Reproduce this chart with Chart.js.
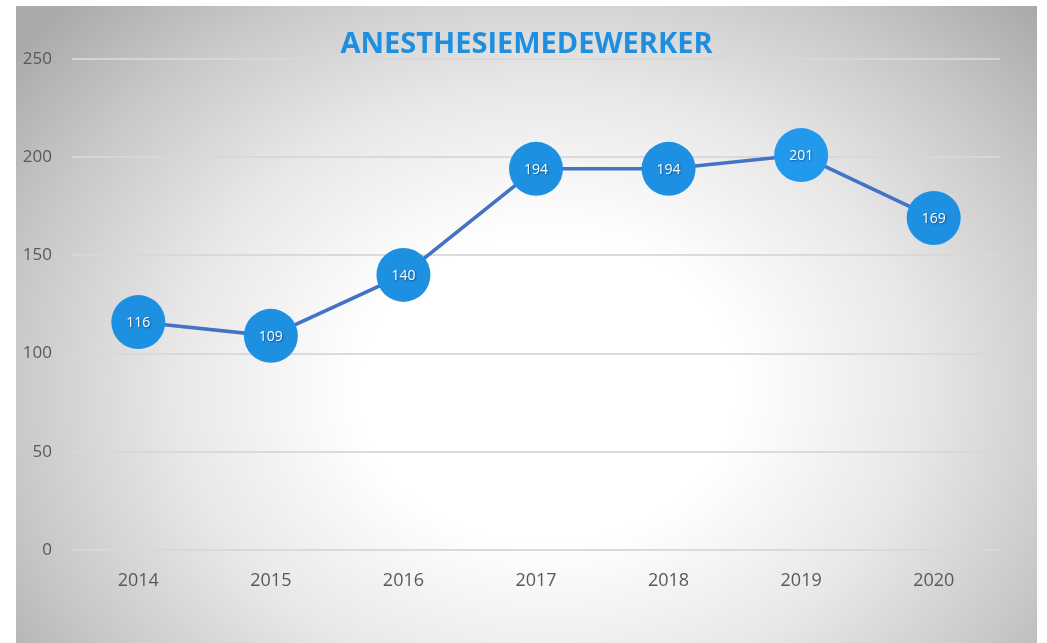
<!DOCTYPE html>
<html>
<head>
<meta charset="utf-8">
<script src="https://cdn.jsdelivr.net/npm/chart.js@4"></script>
<style>
  html, body { margin: 0; padding: 0; background: #fff; }
  #bg {
    position: absolute; left: 16px; top: 6px; width: 1021px; height: 637px;
    background: radial-gradient(ellipse 66% 86% at 52% 60%, #ffffff 0%, #ffffff 28%, #e8e8e8 55%, #c8c8c8 80%, #aaaaaa 100%);
  }
  canvas { display: block; }
</style>
</head>
<body>
<div id="bg"><canvas id="c" width="1021" height="637"></canvas></div>
<script>
const categories = ["2014", "2015", "2016", "2017", "2018", "2019", "2020"];
const values = [116, 109, 140, 194, 194, 201, 169];
const yTicks = [0, 50, 100, 150, 200, 250];
const title = "ANESTHESIEMEDEWERKER";

const labelPlugin = {
  id: 'pointLabels',
  afterDatasetsDraw(chart) {
    const ctx = chart.ctx;
    const meta = chart.getDatasetMeta(0);
    ctx.save();
    ctx.font = '14px "Open Sans", sans-serif';
    ctx.textAlign = 'center';
    ctx.textBaseline = 'middle';
    ctx.shadowColor = 'rgba(0,0,0,0.45)';
    ctx.shadowBlur = 2;
    ctx.shadowOffsetX = 1;
    ctx.shadowOffsetY = 1;
    ctx.fillStyle = '#ffffff';
    meta.data.forEach((pt, i) => {
      ctx.fillText(String(chart.data.datasets[0].data[i]), pt.x, pt.y + 1);
    });
    ctx.restore();
  }
};

new Chart(document.getElementById('c'), {
  type: 'line',
  data: {
    labels: categories,
    datasets: [{
      data: values,
      borderColor: '#4472C4',
      borderWidth: 3.5,
      pointRadius: 27,
      pointHoverRadius: 27,
      pointBorderWidth: 0,
      pointBackgroundColor: ['#1E90E2', '#1E90E2', '#1E90E2', '#1E90E2', '#1E90E2', '#2399EE', '#1E90E2'],
      pointBorderColor: 'rgba(0,0,0,0)',
      tension: 0,
      clip: false
    }]
  },
  options: {
    responsive: false,
    animation: false,
    events: [],
    layout: { padding: { top: 0, right: 0, bottom: 0, left: 0 } },
    plugins: {
      legend: { display: false },
      tooltip: { enabled: false },
      title: {
        display: true,
        text: title,
        color: '#1E8FE0',
        font: { family: '"Open Sans", sans-serif', size: 29, weight: 'bold' },
        padding: { top: 21, bottom: -3 }
      }
    },
    scales: {
      x: {
        offset: true,
        grid: { display: false, drawTicks: false },
        border: { display: false },
        ticks: { color: '#595959', font: { family: '"Open Sans", sans-serif', size: 18 }, padding: 20 },
        afterFit(scale) { scale.height = 93; }
      },
      y: {
        min: 0, max: 250,
        afterBuildTicks(scale) { scale.ticks = yTicks.map(v => ({ value: v })); },
        grid: { color: 'rgba(215,215,215,0.9)', lineWidth: 2, drawTicks: false },
        border: { display: false },
        ticks: { color: '#595959', font: { family: '"Open Sans", sans-serif', size: 17 }, padding: 20 },
        afterFit(scale) { scale.width = 56; }
      },
      yRight: {
        position: 'right',
        display: true,
        min: 0, max: 250,
        grid: { display: false, drawTicks: false },
        border: { display: false },
        ticks: { display: false },
        afterFit(scale) { scale.width = 37; }
      }
    }
  },
  plugins: [labelPlugin]
});
</script>
</body>
</html>
